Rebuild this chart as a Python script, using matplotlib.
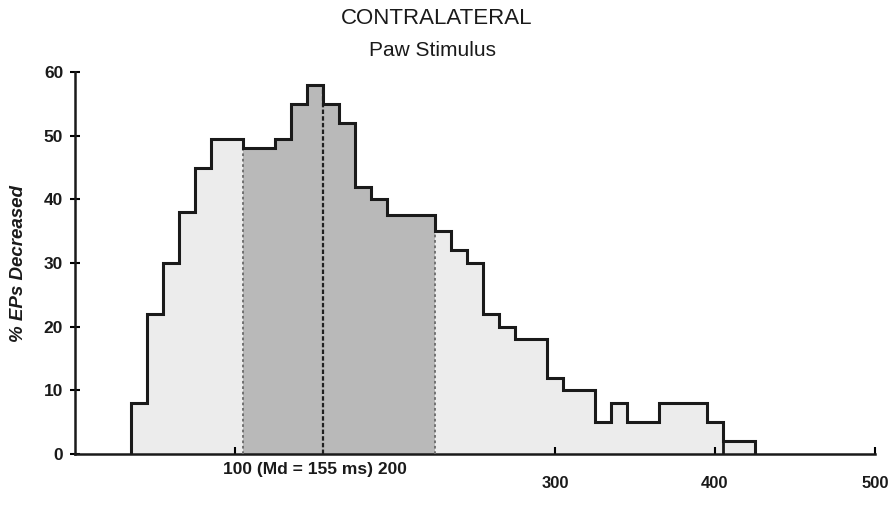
import numpy as np
import matplotlib
matplotlib.use("Agg")
import matplotlib.pyplot as plt

# Latency histogram: 10 ms bins centred on 40 ... 420 ms
bin_centers = list(range(40, 430, 10))
pct_decreased = [8, 22, 30, 38, 45, 49.5, 49.5, 48, 48, 49.5,
                 55, 58, 55, 52, 42, 40, 37.5, 37.5, 37.5, 35,
                 32, 30, 22, 20, 18, 18, 12, 10, 10, 5,
                 8, 5, 5, 8, 8, 8, 5, 2, 2]
median_ms = 155
shade_from, shade_to = 105, 225
yticks = [0, 10, 20, 30, 40, 50, 60]
xticks = [100, 200, 300, 400, 500]
xtick_labels = ["", "", "300", "400", "500"]

title = "CONTRALATERAL"
subtitle = "Paw Stimulus"
ylabel = "% EPs Decreased"
md_label = "100 (Md = 155 ms) 200"

centers = np.array(bin_centers, dtype=float)
heights = np.array(pct_decreased, dtype=float)
edges = np.append(centers - 5, centers[-1] + 5)

plt.rcParams["font.family"] = ["Liberation Sans", "DejaVu Sans"]

fig = plt.figure(figsize=(8.95, 5.08), dpi=100)
ax = fig.add_axes([75 / 895, (508 - 454) / 508, 800 / 895, (454 - 72) / 508])

ink = "#1a1a1a"
light = "#ececec"
dark = "#b9b9b9"

# whole distribution, light fill
ax.stairs(heights, edges, fill=True, color=light, baseline=0, zorder=1)

# band between the quartiles, darker fill
sel = (centers > shade_from) & (centers < shade_to)
sub_edges = np.append(centers[sel] - 5, centers[sel][-1] + 5)
ax.stairs(heights[sel], sub_edges, fill=True, color=dark, baseline=0, zorder=2)

# outline of the histogram
ax.stairs(heights, edges, fill=False, color=ink, lw=2.2, baseline=0, zorder=4)
ax.vlines(edges[-3], 0, heights[-3], color=ink, lw=2.0, zorder=4)

# dotted edges of the shaded band and the median line
for xb in (shade_from, shade_to):
    hb = heights[np.searchsorted(edges, xb) - 1]
    ax.vlines(xb, 0, hb, color="#6a6a6a", lw=1.3, linestyles=(0, (1.5, 1.5)), zorder=3)
med_h = heights[np.searchsorted(edges, median_ms) - 1]
ax.vlines(median_ms, 0, med_h, color="#202020", lw=1.6, linestyles=(0, (2, 1)), zorder=3)

ax.set_xlim(0, 500)
ax.set_ylim(0, 60)
for s in ("top", "right"):
    ax.spines[s].set_visible(False)
for s in ("left", "bottom"):
    ax.spines[s].set_linewidth(1.8)
    ax.spines[s].set_color(ink)

ax.set_yticks(yticks)
ax.set_yticklabels([str(v) for v in yticks], fontsize=12.5, fontweight="bold", color=ink)
ax.tick_params(axis="y", direction="inout", length=7, width=1.5, pad=5)
ax.set_xticks(xticks)
ax.set_xticklabels(xtick_labels, fontsize=12, fontweight="bold", color=ink)
ax.tick_params(axis="x", direction="in", length=5, width=1.5, pad=16)

ax.text(150, -1.3, md_label, ha="center", va="top", fontsize=12.5,
        fontweight="bold", color=ink, clip_on=False)

ax.set_ylabel(ylabel, fontsize=13.5, fontstyle="italic", fontweight="bold",
              color=ink, labelpad=12)

fig.text(437 / 895, 1 - 18 / 508, title, ha="center", va="center",
         fontsize=16, color=ink)
fig.text(433 / 895, 1 - 51 / 508, subtitle, ha="center", va="center",
         fontsize=15, color=ink)

fig.savefig("out.png", dpi=100)
